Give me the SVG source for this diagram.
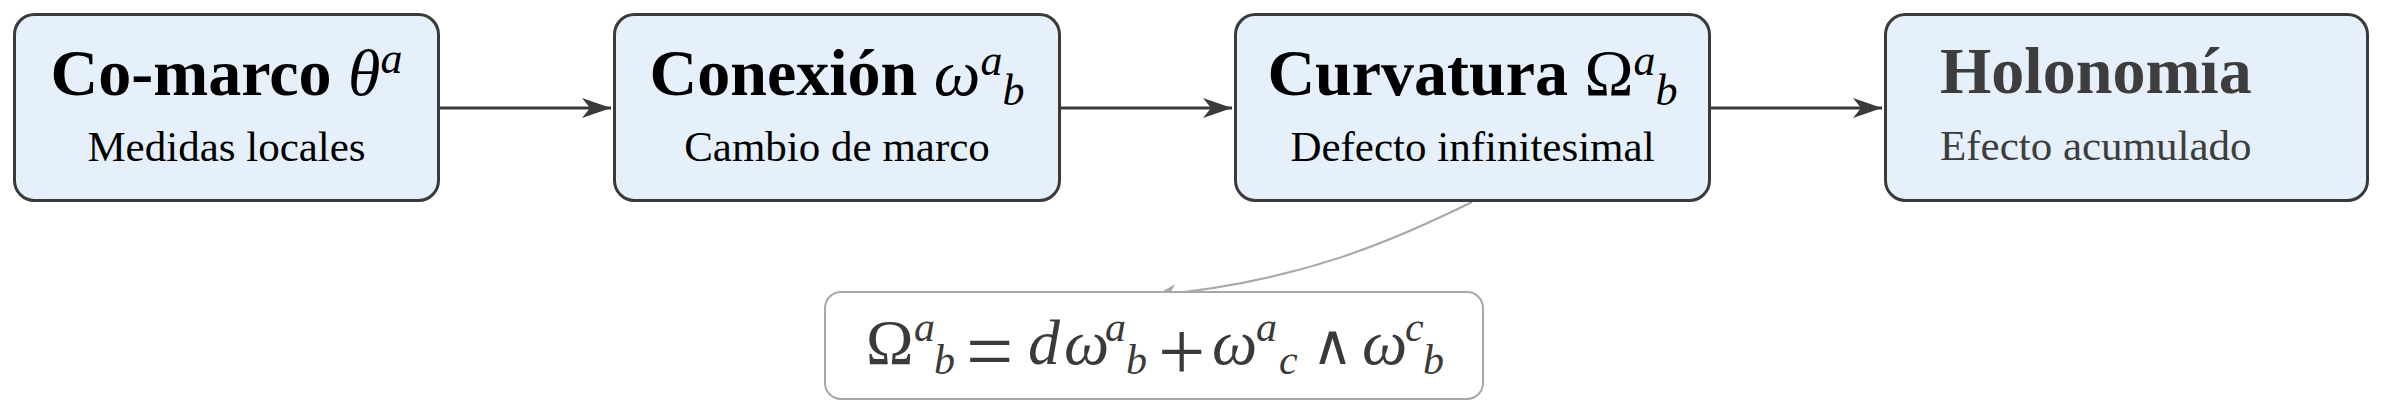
<svg xmlns="http://www.w3.org/2000/svg" width="2384" height="414" viewBox="0 0 2384 414">
<style>
.box{fill:#E6F0FB;stroke:#3a3a3a;stroke-width:3}
.title{font-family:"Liberation Serif","DejaVu Serif",serif;font-weight:bold;font-size:66px;fill:#000}
.sub{font-family:"Liberation Serif","DejaVu Serif",serif;font-size:43px;fill:#000}
.mi{font-weight:normal;font-style:italic}
.mr{font-weight:normal}
.sc{font-weight:normal;font-style:italic;font-size:44px}
.grey{fill:#3d3d3d}
.conn{fill:none;stroke:#3a3a3a;stroke-width:3}
.conn2{fill:none;stroke:#a8a8a8;stroke-width:2}
.fbox{fill:#fff;stroke:#a8a8a8;stroke-width:2}
.fm{font-family:"Liberation Serif","DejaVu Serif",serif;font-size:64px;fill:#3a3a3a}
.fi{font-style:italic}
.fs{font-style:italic;font-size:42px}
.fo{font-size:84px}
.wedge{font-family:"DejaVu Sans",sans-serif;font-size:56px}
</style>
<defs>
<marker id="ah" markerUnits="userSpaceOnUse" markerWidth="40" markerHeight="30" refX="0" refY="0" viewBox="-32 -15 40 30" orient="auto">
<path d="M0,0 L-29,-10 L-21,0 L-29,10 Z" fill="#3a3a3a"/>
</marker>
<marker id="ah2" markerUnits="userSpaceOnUse" markerWidth="30" markerHeight="24" refX="0" refY="0" viewBox="-24 -12 30 24" orient="auto">
<path d="M0,0 L-20,-9 L-14,0 L-20,9 Z" fill="#a8a8a8"/>
</marker>
</defs>
<g id="connectors">
<line class="conn" x1="440" y1="108" x2="611" y2="108" marker-end="url(#ah)"/>
<line class="conn" x1="1061" y1="108" x2="1232" y2="108" marker-end="url(#ah)"/>
<line class="conn" x1="1711" y1="108" x2="1882" y2="108" marker-end="url(#ah)"/>
<path class="conn2" d="M1472,202 C1395,240 1300,282 1156,295" marker-end="url(#ah2)"/>
</g>
<g id="comarco">
<rect class="box" x="14.5" y="14.5" width="424" height="186" rx="20"/>
<text class="title" x="226.5" y="95" text-anchor="middle">Co-marco <tspan class="mi">θ</tspan><tspan class="sc" dy="-22">a</tspan></text>
<text class="sub" x="226.5" y="161" text-anchor="middle">Medidas locales</text>
</g>
<g id="conexion">
<rect class="box" x="614.5" y="14.5" width="445" height="186" rx="20"/>
<text class="title" x="837" y="95" text-anchor="middle">Conexión <tspan class="mi">ω</tspan><tspan class="sc" dy="-20">a</tspan><tspan class="sc" dy="30">b</tspan></text>
<text class="sub" x="837" y="161" text-anchor="middle">Cambio de marco</text>
</g>
<g id="curvatura">
<rect class="box" x="1235.5" y="14.5" width="474" height="186" rx="20"/>
<text class="title" x="1472.5" y="95" text-anchor="middle">Curvatura <tspan class="mr">Ω</tspan><tspan class="sc" dy="-20">a</tspan><tspan class="sc" dy="30">b</tspan></text>
<text class="sub" x="1472.5" y="161" text-anchor="middle">Defecto infinitesimal</text>
</g>
<g id="holonomia">
<rect class="box" x="1885.5" y="14.5" width="482" height="186" rx="20"/>
<text class="title grey" x="1940" y="93">Holonomía</text>
<text class="sub grey" x="1940" y="160">Efecto acumulado</text>
</g>
<g id="formula">
<rect class="fbox" x="825" y="292" width="658" height="107" rx="16"/>
<text class="fm"><tspan x="866" y="364">Ω</tspan><tspan class="fs" x="914" y="341">a</tspan><tspan class="fs" x="934" y="374">b</tspan><tspan class="fo" x="966" y="380">=</tspan><tspan class="fi" x="1028" y="364">d</tspan><tspan class="fi" x="1064" y="364">ω</tspan><tspan class="fs" x="1105" y="341">a</tspan><tspan class="fs" x="1126" y="374">b</tspan><tspan class="fo" x="1158" y="380">+</tspan><tspan class="fi" x="1212" y="364">ω</tspan><tspan class="fs" x="1256" y="341">a</tspan><tspan class="fs" x="1279" y="374">c</tspan><tspan class="wedge" x="1312" y="364">∧</tspan><tspan class="fi" x="1362" y="364">ω</tspan><tspan class="fs" x="1405" y="341">c</tspan><tspan class="fs" x="1423" y="374">b</tspan></text>
</g>
</svg>
